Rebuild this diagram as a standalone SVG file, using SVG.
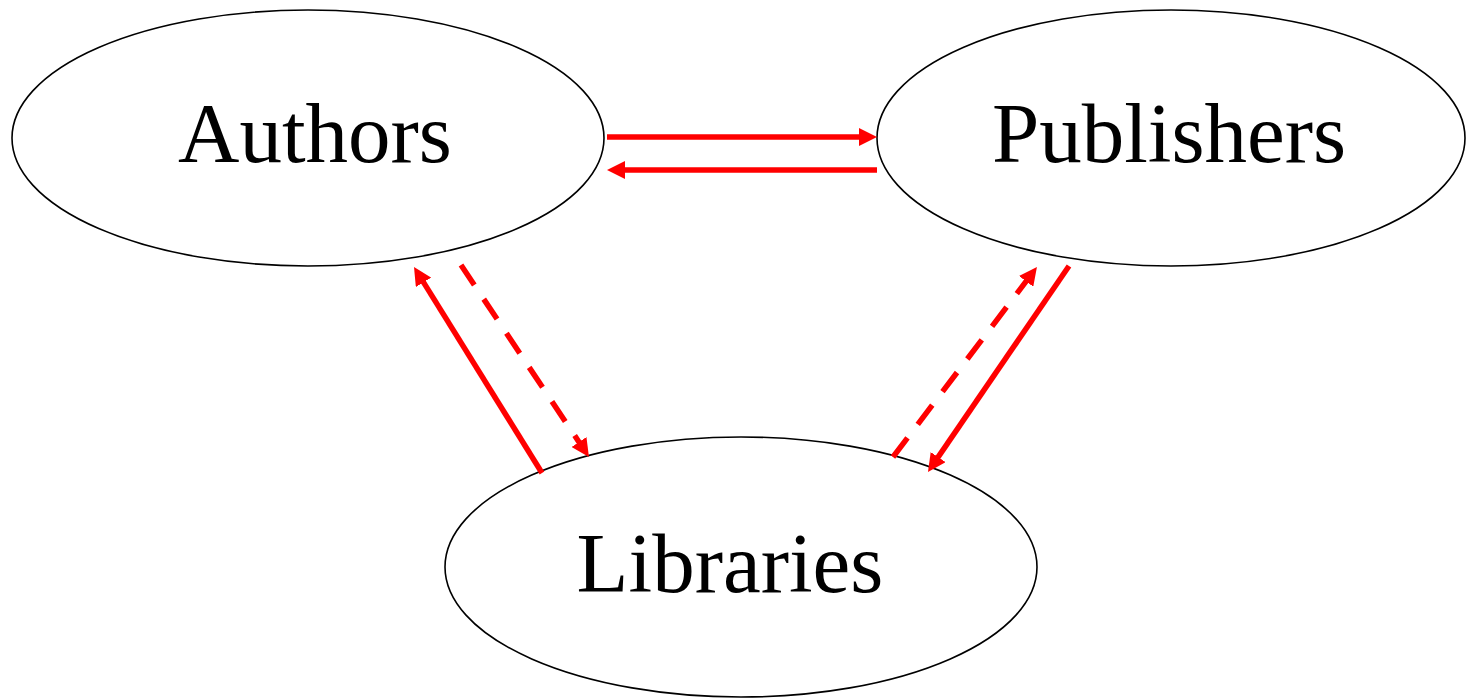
<svg xmlns="http://www.w3.org/2000/svg" width="1470" height="699" viewBox="0 0 1470 699">
<style>
.node ellipse{fill:#fff;stroke:#000;stroke-width:1.6}
.node text{font-family:"Liberation Serif","Times New Roman",serif;font-size:85px;fill:#000;text-anchor:middle}
.edge{stroke:#ff0000;stroke-width:5.5;fill:none;marker-end:url(#ah)}
.dash{stroke-dasharray:24 17}
</style>
<defs>
<marker id="ah" markerUnits="userSpaceOnUse" markerWidth="19" markerHeight="18" refX="4" refY="9" orient="auto">
<path d="M0,0 L18,9 L0,18 z" fill="#ff0000"/>
</marker>
</defs>
<rect width="1470" height="699" fill="#fff"/>
<g id="authors" class="node">
<ellipse cx="308" cy="138" rx="296" ry="128"/>
<text x="315" y="162">Authors</text>
</g>
<g id="publishers" class="node">
<ellipse cx="1171" cy="138" rx="294" ry="128"/>
<text x="1169" y="162">Publishers</text>
</g>
<g id="libraries" class="node">
<ellipse cx="741" cy="567" rx="296" ry="130"/>
<text x="730" y="592">Libraries</text>
</g>
<g id="connectors">
<path class="edge" d="M607,137 L863,137"/>
<path class="edge" d="M877,170 L621,170"/>
<path class="edge" d="M542,473 L421.4,278.9"/>
<path class="edge dash" d="M461,265 L581.2,445.4"/>
<path class="edge dash" d="M893,457 L1028.5,278.2"/>
<path class="edge" d="M1069,266 L935.9,460.4"/>
</g>
</svg>
